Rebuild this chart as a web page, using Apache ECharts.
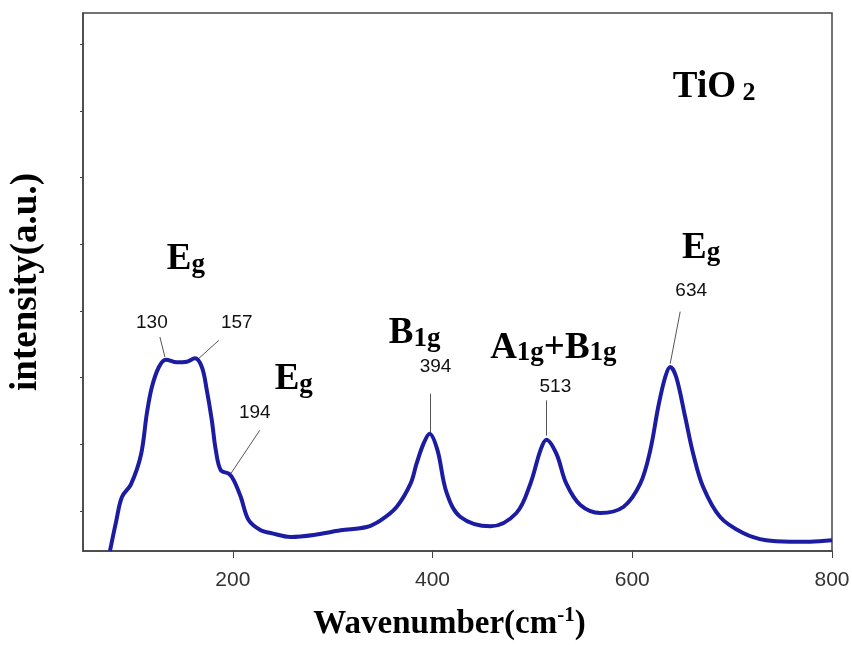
<!DOCTYPE html>
<html>
<head>
<meta charset="utf-8">
<script src="https://cdn.jsdelivr.net/npm/echarts@6/dist/echarts.min.js"></script>
<style>
  html, body { margin: 0; padding: 0; background: #fff; }
  #main { width: 852px; height: 645px; }
</style>
</head>
<body>
<div id="main"></div>
<script>
// Raman spectrum (wavenumber, intensity a.u.)
const wavenumber = [77, 83, 89, 98, 108, 114, 119, 126, 133, 144, 154, 162, 169, 174, 179, 183, 188, 196, 201, 208, 216, 228, 238, 258, 281, 308, 334, 348, 364, 378, 384, 391, 397, 405, 414, 428, 458, 484, 498, 508, 514, 524, 534, 548, 568, 591, 608, 618, 626, 633, 638, 644, 653, 661, 671, 688, 711, 734, 758, 778, 800];
const intensity = [0.0, 0.43, 0.81, 1.0, 1.44, 2.07, 2.46, 2.76, 2.87, 2.83, 2.84, 2.89, 2.76, 2.41, 1.96, 1.51, 1.21, 1.16, 1.06, 0.81, 0.46, 0.31, 0.27, 0.21, 0.24, 0.31, 0.36, 0.46, 0.66, 1.01, 1.31, 1.61, 1.76, 1.51, 0.88, 0.51, 0.37, 0.57, 1.01, 1.51, 1.67, 1.46, 1.01, 0.69, 0.57, 0.66, 1.01, 1.51, 2.16, 2.61, 2.76, 2.61, 2.01, 1.46, 0.96, 0.51, 0.27, 0.16, 0.14, 0.14, 0.16];

// x axis ticks, y axis ticks (unlabelled)
const xTicks = [200, 400, 600, 800];
const yTicks = [0.6, 1.6, 2.6, 3.6, 4.6, 5.6, 6.6, 7.6];

// peak numbers: text, label position, leader line start -> end
const peakText = ['130', '157', '194', '394', '513', '634'];
const peakLabelAt = [[119, 3.42], [204, 3.42], [222, 2.08], [403, 2.76], [523, 2.47], [659, 3.91]];
const leaderFrom = [[127, 3.21], [186, 3.16], [227, 1.81], [398, 2.36], [514, 2.26], [648, 3.59]];
const leaderTo = [[132, 2.91], [166, 2.89], [198, 1.16], [398, 1.78], [514, 1.73], [638, 2.81]];

// vibrational mode names
const modeText = ['{b|E}{s|g}', '{b|E}{s|g}', '{b|B}{s|1g}', '{b|A}{s|1g}{b|+B}{s|1g}', '{b|E}{s|g}', '{b|TiO}{t| 2}'];
const modeAt = [[153, 4.39], [261, 2.59], [382, 3.28], [521, 3.06], [669, 4.56], [682, 6.97]];

const chart = echarts.init(document.getElementById('main'));

const serif = 'Liberation Serif';
const richStyle = {
  b: { fontFamily: serif, fontWeight: 'bold', fontSize: 37, color: '#000', verticalAlign: 'bottom', lineHeight: 40 },
  s: { fontFamily: serif, fontWeight: 'bold', fontSize: 27, color: '#000', verticalAlign: 'bottom', lineHeight: 36 },
  t: { fontFamily: serif, fontWeight: 'bold', fontSize: 26, color: '#000', verticalAlign: 'bottom', lineHeight: 18 }
};

const option = {
  animation: false,
  grid: {
    left: 83, right: 20, top: 13, bottom: 94,
    outerBoundsMode: 'none',
    show: true, borderColor: '#444', borderWidth: 1.5
  },
  xAxis: {
    type: 'value',
    min: 50, max: 800,
    name: '{n|Wavenumber(cm}{u|-1}{n|)}',
    nameLocation: 'middle',
    nameGap: 54,
    nameTextStyle: {
      padding: [0, 16, 0, 0],
      rich: {
        n: { fontFamily: serif, fontWeight: 'bold', fontSize: 33, color: '#000', verticalAlign: 'bottom', lineHeight: 36 },
        u: { fontFamily: serif, fontWeight: 'bold', fontSize: 21, color: '#000', verticalAlign: 'top', lineHeight: 36 }
      }
    },
    axisLine: { onZero: false, lineStyle: { color: '#444', width: 1.5 } },
    axisTick: { customValues: xTicks, length: 7, lineStyle: { color: '#444' } },
    axisLabel: { customValues: xTicks, fontFamily: 'Liberation Sans', fontSize: 21, color: '#333', margin: 19 },
    splitLine: { show: false }
  },
  yAxis: {
    type: 'value',
    min: 0, max: 8.07,
    name: 'intensity(a.u.)',
    nameLocation: 'middle',
    nameGap: 38,
    nameTextStyle: { fontFamily: serif, fontWeight: 'bold', fontSize: 37, color: '#000' },
    axisLine: { show: true, lineStyle: { color: '#444', width: 1.5 } },
    axisTick: { customValues: yTicks, length: 3, lineStyle: { color: '#444' } },
    axisLabel: { show: false },
    splitLine: { show: false }
  },
  series: [
    {
      type: 'line',
      data: wavenumber.map((w, i) => [w, intensity[i]]),
      smooth: 0.35,
      showSymbol: false,
      clip: true,
      lineStyle: { color: '#1c1ca2', width: 4 },
      z: 3
    },
    {
      type: 'scatter',
      silent: true,
      symbolSize: 1,
      itemStyle: { color: 'transparent', opacity: 1 },
      data: peakLabelAt.map((p, i) => ({ value: p, name: peakText[i] })),
      label: {
        show: true, position: 'inside', formatter: '{b}',
        fontFamily: 'Liberation Sans', fontSize: 19, color: '#111',
        textBorderWidth: 0
      },
      markLine: {
        silent: true,
        symbol: ['none', 'none'],
        label: { show: false },
        lineStyle: { color: '#555', width: 1, type: 'solid', opacity: 1 },
        data: leaderFrom.map((f, i) => [{ coord: f }, { coord: leaderTo[i] }])
      }
    },
    {
      type: 'scatter',
      silent: true,
      symbolSize: 1,
      itemStyle: { color: 'transparent', opacity: 1 },
      data: modeAt.map((p, i) => ({ value: p, name: modeText[i] })),
      label: {
        show: true, position: 'inside', formatter: '{b}',
        color: '#000', textBorderWidth: 0,
        rich: richStyle
      }
    }
  ]
};

option && chart.setOption(option);
</script>
</body>
</html>
